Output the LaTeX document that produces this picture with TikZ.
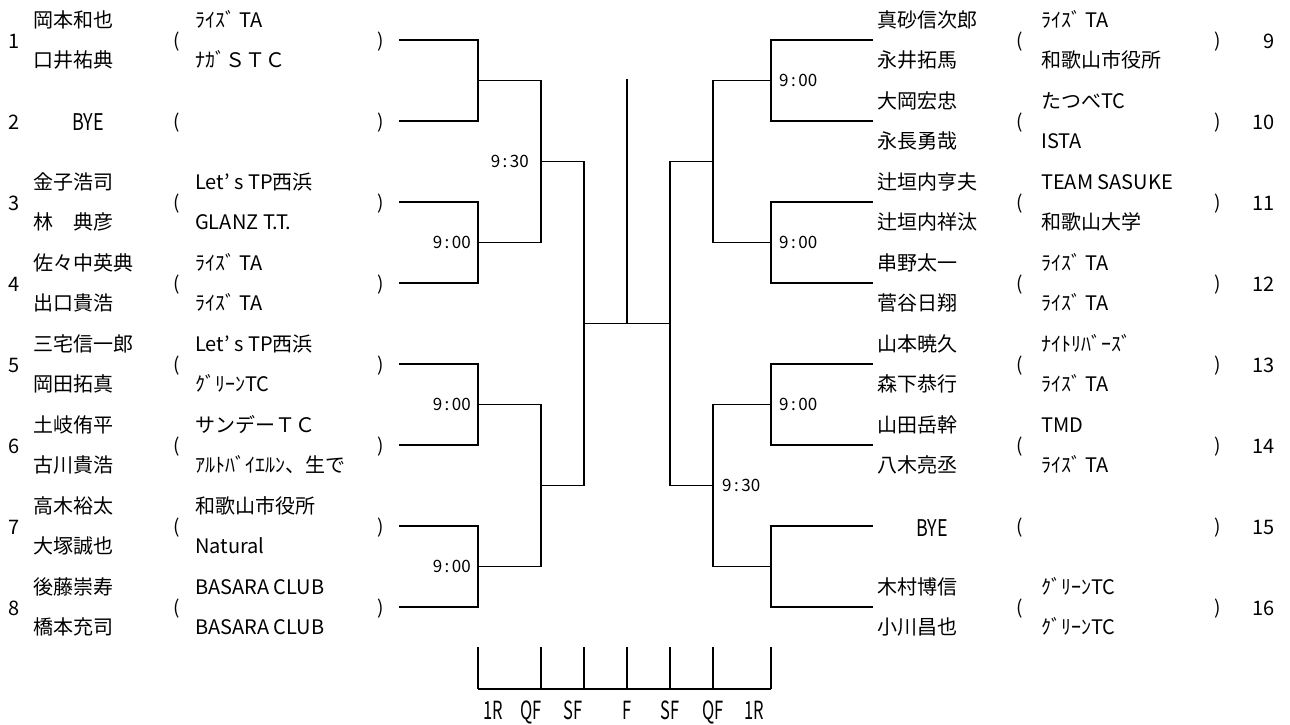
\documentclass[tikz,border=0pt]{standalone}
\usepackage{fontspec}
\setmainfont{Noto Sans CJK JP}
\newfontfamily\condf[FakeStretch=0.78]{Noto Sans CJK JP}
\newfontfamily\condg[FakeStretch=0.66]{Noto Sans CJK JP}
\newcommand\tm[2]{#1\hspace{2.5pt}:\hspace{2.5pt}#2}
\tikzset{
  txt/.style={inner sep=0pt, anchor=base west, font=\fontsize{20}{22}\selectfont},
  numl/.style={inner sep=0pt, anchor=base, font=\fontsize{20}{22}\selectfont},
  numr/.style={inner sep=0pt, anchor=base east, font=\fontsize{20}{22}\selectfont},
  par/.style={inner sep=0pt, anchor=base, font=\fontsize{19}{22}\selectfont},
  bye/.style={inner sep=0pt, anchor=base, font=\condf\fontsize{23}{24}\selectfont},
  tim/.style={inner sep=0pt, font=\fontsize{17}{18}\selectfont},
  rnd/.style={inner sep=0pt, anchor=base, font=\condg\fontsize{25}{28}\selectfont},
  br/.style={line width=1.6pt},
}
\newcommand\lentry[6]{%
  \node[numl] (n#1) at (14,#2+8) {#1};
  \node[txt] (pa#1) at (33,#2-12.5) {#3};
  \node[txt] (pb#1) at (33,#2+27.5) {#4};
  \node[par] (lp#1) at (177,#2+7) {(};
  \node[txt] (ta#1) at (195,#2-12.5) {#5};
  \node[txt] (tb#1) at (195,#2+27.5) {#6};
  \node[par] (rp#1) at (381,#2+7) {)};
}
\newcommand\rentry[6]{%
  \node[numr] (n#1) at (1275,#2+8) {#1};
  \node[txt] (pa#1) at (877,#2-12.5) {#3};
  \node[txt] (pb#1) at (877,#2+27.5) {#4};
  \node[par] (lp#1) at (1020,#2+7) {(};
  \node[txt] (ta#1) at (1041,#2-12.5) {#5};
  \node[txt] (tb#1) at (1041,#2+27.5) {#6};
  \node[par] (rp#1) at (1218,#2+7) {)};
}
\begin{document}
\begin{tikzpicture}[x=1pt,y=-1pt]
\useasboundingbox (0,0) rectangle (1290,724);
\fill[white] (0,0) rectangle (1290,724);

% ---- left entries
\lentry{1}{40}{岡本和也}{口井祐典}{ﾗｲｽﾞ TA}{ﾅｶﾞＳＴＣ}
\node[numl] (n2) at (14,129) {2};
\node[bye] (bye2) at (88,130) {BYE};
\node[par] (lp2) at (177,128) {(};
\node[par] (rp2) at (381,128) {)};
\lentry{3}{202}{金子浩司}{林　典彦}{Let' s TP西浜}{GLANZ T.T.}
\lentry{4}{283}{佐々中英典}{出口貴浩}{ﾗｲｽﾞ TA}{ﾗｲｽﾞ TA}
\lentry{5}{364}{三宅信一郎}{岡田拓真}{Let' s TP西浜}{ｸﾞﾘｰﾝTC}
\lentry{6}{445}{土岐侑平}{古川貴浩}{サンデーＴＣ}{ｱﾙﾄﾊﾞｲｴﾙﾝ、生で}
\lentry{7}{526}{高木裕太}{大塚誠也}{和歌山市役所}{Natural}
\lentry{8}{607}{後藤崇寿}{橋本充司}{BASARA CLUB}{BASARA CLUB}

% ---- right entries
\rentry{9}{40}{真砂信次郎}{永井拓馬}{ﾗｲｽﾞ TA}{和歌山市役所}
\rentry{10}{121}{大岡宏忠}{永長勇哉}{たつべTC}{ISTA}
\rentry{11}{202}{辻垣内亨夫}{辻垣内祥汰}{TEAM SASUKE}{和歌山大学}
\rentry{12}{283}{串野太一}{菅谷日翔}{ﾗｲｽﾞ TA}{ﾗｲｽﾞ TA}
\rentry{13}{364}{山本暁久}{森下恭行}{ﾅｲﾄﾘﾊﾞｰｽﾞ}{ﾗｲｽﾞ TA}
\rentry{14}{445}{山田岳幹}{八木亮丞}{TMD}{ﾗｲｽﾞ TA}
\node[numr] (n15) at (1275,534) {15};
\node[bye] (bye15) at (932,536) {BYE};
\node[par] (lp15) at (1020,533) {(};
\node[par] (rp15) at (1218,533) {)};
\rentry{16}{607}{木村博信}{小川昌也}{ｸﾞﾘｰﾝTC}{ｸﾞﾘｰﾝTC}

% ---- bracket coordinates
\foreach \i/\y in {1/40,2/121,3/202,4/283,5/364,6/445,7/526,8/607}{
  \coordinate (L\i) at (399,\y);
}
\foreach \i/\y in {9/40,10/121,11/202,12/283,13/364,14/445,15/526,16/607}{
  \coordinate (R\i) at (873,\y);
}
\coordinate (LA) at (478,80.5);  \coordinate (LB) at (478,242.5);
\coordinate (LC) at (478,404.5); \coordinate (LD) at (478,566.5);
\coordinate (LQ1) at (541,161.5); \coordinate (LQ2) at (541,485.5);
\coordinate (LS) at (584,323.5);
\coordinate (RA) at (771,80.5);  \coordinate (RB) at (771,242.5);
\coordinate (RC) at (771,404.5); \coordinate (RD) at (771,566.5);
\coordinate (RQ1) at (713,161.5); \coordinate (RQ2) at (713,485.5);
\coordinate (RS) at (670,323.5);
\coordinate (F) at (627,323.5);
\coordinate (Ftop) at (627,79);

\draw[br] (L1) -| (LA) |- (L2);
\draw[br] (L3) -| (LB) |- (L4);
\draw[br] (L5) -| (LC) |- (L6);
\draw[br] (L7) -| (LD) |- (L8);
\draw[br] (LA) -| (LQ1) |- (LB);
\draw[br] (LC) -| (LQ2) |- (LD);
\draw[br] (LQ1) -| (LS) |- (LQ2);
\draw[br] (R9) -| (RA) |- (R10);
\draw[br] (R11) -| (RB) |- (R12);
\draw[br] (R13) -| (RC) |- (R14);
\draw[br] (R15) -| (RD) |- (R16);
\draw[br] (RA) -| (RQ1) |- (RB);
\draw[br] (RC) -| (RQ2) |- (RD);
\draw[br] (RQ1) -| (RS) |- (RQ2);
\draw[br] (LS) -- (RS);
\draw[br] (F) -- (Ftop);

% ---- times
\node[tim, anchor=east] (t1) at (471,242.5) {\tm{9}{00}};
\node[tim, anchor=east] (t2) at (471,404.5) {\tm{9}{00}};
\node[tim, anchor=east] (t3) at (471,566.5) {\tm{9}{00}};
\node[tim, anchor=east] (t4) at (529,161.5) {\tm{9}{30}};
\node[tim, anchor=west] (t5) at (779,80.5) {\tm{9}{00}};
\node[tim, anchor=west] (t6) at (779,242.5) {\tm{9}{00}};
\node[tim, anchor=west] (t7) at (779,404.5) {\tm{9}{00}};
\node[tim, anchor=west] (t8) at (722,485.5) {\tm{9}{30}};

% ---- round scale
\foreach \k/\x in {1/478,2/541,3/584,4/627,5/670,6/713,7/771}{
  \coordinate (st\k) at (\x,647);
  \coordinate (sb\k) at (\x,689);
  \draw[br] (st\k) -- (sb\k);
}
\draw[br] (sb1) -- (sb7);
\node[rnd] (r1) at (493,719) {1R};
\node[rnd] (r2) at (531,719) {QF};
\node[rnd] (r3) at (573,719) {SF};
\node[rnd] (r4) at (627,719) {F};
\node[rnd] (r5) at (670,719) {SF};
\node[rnd] (r6) at (713,719) {QF};
\node[rnd] (r7) at (754,719) {1R};
\end{tikzpicture}
\end{document}
